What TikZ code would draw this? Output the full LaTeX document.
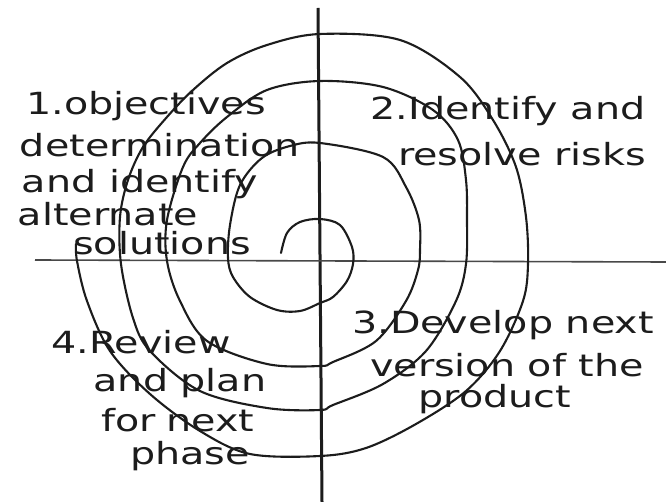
\documentclass[tikz,border=0pt]{standalone}
\usepackage{fontspec}
\setmainfont{DejaVu Sans}
\newfontfamily\handfont[FakeStretch=1.3]{DejaVu Sans}
\definecolor{ink}{RGB}{28,28,28}
\begin{document}
\begin{tikzpicture}[x=1pt,y=-1pt,
  lbl/.style={anchor=base,inner sep=0pt,text=ink,font=\handfont\fontsize{30.5}{34}\selectfont},
  spiralline/.style={draw=ink,line width=2.1pt,line cap=round,line join=round},
  axisv/.style={draw=ink,line width=3pt},
  axish/.style={draw=ink!80,line width=1.6pt}]
\useasboundingbox (0,0) rectangle (666,502);
\fill[white] (0,0) rectangle (666,502);
% axes
\coordinate (vtop) at (318,8);
\coordinate (vbot) at (322,502);
\coordinate (hleft) at (35,260);
\coordinate (hright) at (666,262);
\draw[axisv] (vtop) -- (vbot);
\draw[axish] (hleft) -- (hright);
% spiral
\draw[spiralline] plot[smooth,tension=0.55] coordinates {
 (281,253) (287,233) (300,222) (320,219) (340,225) (352,247) (353,264)
 (347,281) (333,297) (320,303) (300,311) (277,310) (250,297) (233,277)
 (228,258) (230,225) (240,185) (262,158) (290,146) (320,143)
 (383,157) (406,187) (419,220) (420,250) (418,270) (406,301) (376,341)
 (333,362) (320,366) (267,364) (207,341) (180,301) (167,261) (167,220)
 (183,167) (200,143) (227,117) (267,90) (320,81)
 (383,87) (433,110) (458,140) (466,180) (467,220) (466,264) (456,301)
 (426,351) (383,384) (333,405) (320,410) (267,408) (200,391) (150,351)
 (133,318) (121,264) (120,217) (128,180) (143,147) (167,117) (193,90)
 (227,63) (267,45) (320,34)
 (400,40) (460,77) (493,120) (516,167) (526,217) (528,264) (523,301)
 (500,351) (466,391) (416,424) (366,448) (320,456) (250,454) (200,431)
 (150,394) (110,351) (87,301) (77,261) (76,244)};
% quadrant 1
\node[lbl] (qa1) at (146,115) {1.objectives};
\node[lbl] (qa2) at (160,157) {determination};
\node[lbl] (qa3) at (140,193) {and identify};
\node[lbl] (qa4) at (108,226) {alternate};
\node[lbl] (qa5) at (162,255) {solutions};
% quadrant 2
\node[lbl] (qb1) at (508,120) {2.Identify and};
\node[lbl] (qb2) at (522,166) {resolve risks};
% quadrant 4 (bottom right)
\node[lbl] (qc1) at (503,334) {3.Develop next};
\node[lbl] (qc2) at (507,376) {version of the};
\node[lbl] (qc3) at (495,407) {product};
% quadrant 3 (bottom left)
\node[lbl] (qd1) at (141,353) {4.Review};
\node[lbl] (qd2) at (180,391) {and plan};
\node[lbl] (qd3) at (178,431) {for\hspace{0.35em}next};
\node[lbl] (qd4) at (190,464) {phase};
\end{tikzpicture}
\end{document}
